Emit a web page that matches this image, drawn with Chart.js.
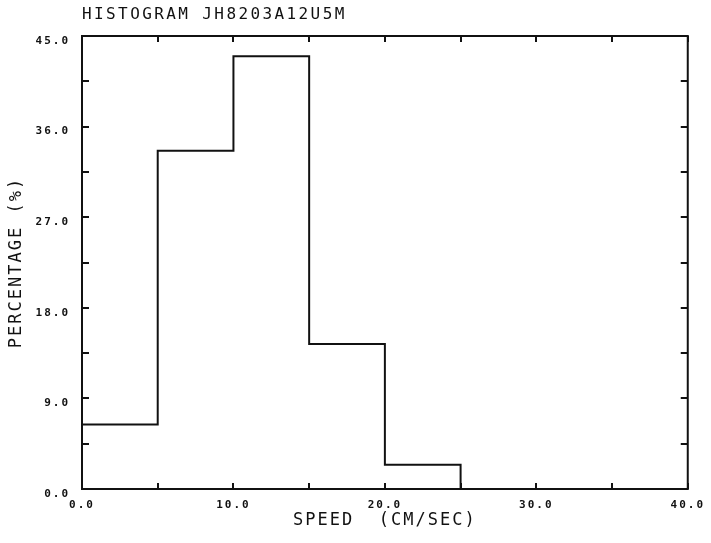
<!DOCTYPE html>
<html>
<head>
<meta charset="utf-8">
<title>Histogram JH8203A12U5M</title>
<script src="https://cdn.jsdelivr.net/npm/chart.js@4/dist/chart.umd.min.js"></script>
<style>
    html, body { margin: 0; padding: 0; background: #fff; }
    canvas { display: block; }
</style>
</head>
<body>
<canvas id="histChart" width="711" height="543"></canvas>
<script>
// --- Data ---
const chartTitle = 'HISTOGRAM JH8203A12U5M';
const xTitle = 'SPEED  (CM/SEC)';
const yTitle = 'PERCENTAGE (%)';
const binEdges = [0, 5, 10, 15, 20, 25, 30];          // speed bins, cm/s
const percentages = [6.4, 33.6, 43.0, 14.4, 2.4, 0.0]; // % per bin
const xLabelValues = [0, 10, 20, 30, 40];
const yLabelValues = [0, 9, 18, 27, 36, 45];

const ink = '#111';

// stepped line: each bin starts at its edge, closed on the last edge
const points = percentages.map((p, i) => ({ x: binEdges[i], y: p }));
points.push({ x: binEdges[binEdges.length - 1], y: 0 });

const hasValue = (list, v) => list.some(t => Math.abs(t - v) < 1e-6);

// frame, inward ticks and the title, like the old plotter output
const plotterFrame = {
    id: 'plotterFrame',
    beforeDraw(chart) {
        chart.ctx.letterSpacing = '2px';
    },
    afterDraw(chart) {
        const { ctx, chartArea: a, scales: { x, y } } = chart;
        ctx.save();
        ctx.strokeStyle = ink;
        ctx.lineWidth = 2;
        ctx.strokeRect(a.left, a.top, a.right - a.left, a.bottom - a.top);

        ctx.beginPath();
        x.ticks.forEach(t => {
            const px = Math.round(x.getPixelForValue(t.value));
            ctx.moveTo(px, a.bottom); ctx.lineTo(px, a.bottom - 6);
            ctx.moveTo(px, a.top); ctx.lineTo(px, a.top + 6);
        });
        y.ticks.forEach(t => {
            const py = Math.round(y.getPixelForValue(t.value));
            ctx.moveTo(a.left, py); ctx.lineTo(a.left + 7, py);
            ctx.moveTo(a.right, py); ctx.lineTo(a.right - 7, py);
        });
        ctx.stroke();

        ctx.fillStyle = ink;
        ctx.font = '16px "DejaVu Sans Mono"';
        ctx.letterSpacing = '2.4px';
        ctx.textAlign = 'left';
        ctx.textBaseline = 'middle';
        ctx.fillText(chartTitle, a.left, 15);
        ctx.restore();
    }
};

Chart.defaults.font.family = '"DejaVu Sans Mono", monospace';
Chart.defaults.color = ink;

new Chart(document.getElementById('histChart'), {
    type: 'line',
    data: {
        datasets: [{
            data: points,
            stepped: 'before',
            borderColor: ink,
            borderWidth: 2,
            pointRadius: 0,
            fill: false
        }]
    },
    options: {
        responsive: false,
        animation: false,
        layout: { padding: { top: 36, right: 20, left: 0, bottom: 0 } },
        plugins: {
            legend: { display: false },
            tooltip: { enabled: false }
        },
        scales: {
            x: {
                type: 'linear',
                min: 0,
                max: 40,
                border: { display: false },
                grid: { display: false, drawTicks: false },
                ticks: {
                    stepSize: 5,
                    autoSkip: false,
                    maxRotation: 0,
                    padding: 10,
                    font: { size: 11, weight: 'bold' },
                    callback: v => hasValue(xLabelValues, v) ? v.toFixed(1) : ''
                },
                title: {
                    display: true,
                    text: xTitle,
                    font: { size: 17, lineHeight: 1 },
                    padding: { top: 0, bottom: 14 }
                },
                afterFit: scale => { scale.height = 54; }
            },
            y: {
                min: 0,
                max: 45,
                border: { display: false },
                grid: { display: false, drawTicks: false },
                ticks: {
                    stepSize: 4.5,
                    autoSkip: false,
                    padding: 12,
                    labelOffset: 5,
                    font: { size: 11, weight: 'bold' },
                    callback: v => hasValue(yLabelValues, v) ? v.toFixed(1) : ''
                },
                title: {
                    display: true,
                    text: yTitle,
                    font: { size: 17, lineHeight: 1 },
                    padding: { top: 8, bottom: 0 }
                },
                afterFit: scale => { scale.width = 82; }
            }
        }
    },
    plugins: [plotterFrame]
});
</script>
</body>
</html>
